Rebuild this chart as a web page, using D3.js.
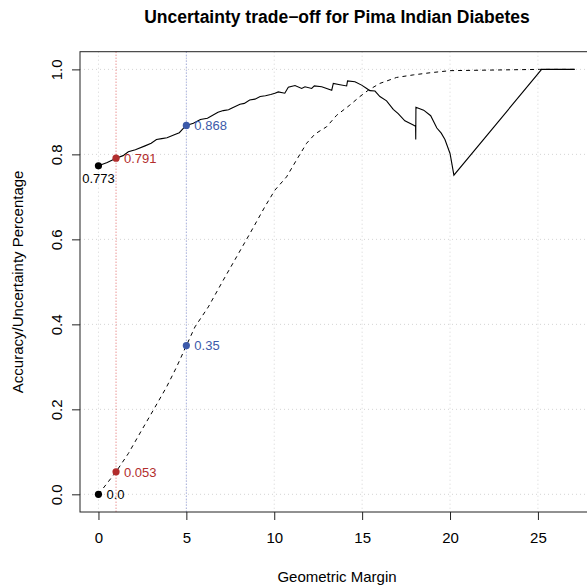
<!DOCTYPE html>
<html>
<head>
<meta charset="utf-8">
<script src="https://cdn.jsdelivr.net/npm/d3@7"></script>
<style>
  body { margin: 0; background: #fff; }
  svg { display: block; font-family: "Liberation Sans", Arial, Helvetica, sans-serif; }
</style>
</head>
<body>
<div id="chart-container"></div>
<script>
// Accuracy curve (solid)
const accMargin = [0, 0.5, 1, 1.4, 1.7, 2.1, 2.65, 3.0, 3.3, 3.6, 3.9, 4.35, 4.6, 4.8, 5.0,
    5.4, 5.8, 6.2, 6.5, 6.8, 7.1, 7.4, 7.6, 8.05, 8.3, 8.6, 8.9, 9.2, 9.5, 9.8, 10.04,
    10.23, 10.6, 10.8, 11.18, 11.56, 11.75, 12.13, 12.28, 12.7, 13.27, 13.36, 13.74,
    14.12, 14.17, 14.59, 14.97, 15.26, 15.44, 15.73, 16.01, 16.39, 16.77, 17.05, 17.43,
    17.91, 18.04, 18.05, 18.06, 18.5, 18.9, 19.25, 19.5, 19.71, 20.0, 20.22, 25.21, 27.1];
const accuracy = [0.773, 0.781, 0.791, 0.797, 0.806, 0.811, 0.820, 0.826, 0.835, 0.837, 0.839, 0.847, 0.851, 0.860, 0.868,
    0.873, 0.882, 0.885, 0.892, 0.899, 0.903, 0.905, 0.909, 0.918, 0.920, 0.928, 0.930, 0.936, 0.938, 0.941, 0.944,
    0.947, 0.944, 0.958, 0.962, 0.955, 0.959, 0.955, 0.961, 0.959, 0.951, 0.967, 0.964,
    0.961, 0.973, 0.971, 0.963, 0.955, 0.950, 0.949, 0.936, 0.926, 0.906, 0.896, 0.879,
    0.869, 0.866, 0.835, 0.911, 0.904, 0.891, 0.862, 0.850, 0.835, 0.802, 0.751, 1.0, 1.0];

// Uncertainty curve (dashed)
const uncMargin = [0, 1, 1.7, 2.46, 3.12, 3.88, 4.45, 5, 5.49, 6.25, 7.1, 7.86, 8.62, 9.47, 10.04,
    10.7, 11.27, 11.84, 12.32, 12.98, 13.55, 14.3, 14.87, 15.35, 16.01, 16.96, 17.91, 18.86,
    20.0, 21.7, 25.1, 27.1];
const uncertainty = [0, 0.053, 0.096, 0.151, 0.198, 0.253, 0.300, 0.35, 0.394, 0.441, 0.504, 0.559, 0.614, 0.677, 0.716,
    0.747, 0.787, 0.826, 0.848, 0.865, 0.892, 0.916, 0.936, 0.951, 0.967, 0.981, 0.987, 0.992,
    0.997, 0.998, 1.0, 1.0];

// Highlighted margins and their labels
const markMargins = [0, 1, 5];
const markColors = ["#000000", "#b22d2d", "#3c5aaa"];
const accLabels = ["0.773", "0.791", "0.868"];
const uncLabels = ["0.0", "0.053", "0.35"];
const accMarks = [0.773, 0.791, 0.868];
const uncMarks = [0, 0.053, 0.35];

const xTicks = [0, 5, 10, 15, 20, 25];
const yTicks = [0, 0.2, 0.4, 0.6, 0.8, 1.0];
const yTickLabels = ["0.0", "0.2", "0.4", "0.6", "0.8", "1.0"];

class TradeoffChart {
    constructor(container) {
        this.container = container;
        this.width = 587;
        this.height = 586;
        this.box = { left: 80, right: 594, top: 51.7, bottom: 512 };
        this.initChart();
    }

    initChart() {
        this.svg = d3.select(this.container)
            .append("svg")
            .attr("width", this.width)
            .attr("height", this.height);

        this.x = d3.scaleLinear().domain([-1.05, 28.19]).range([this.box.left, this.box.right]);
        this.y = d3.scaleLinear().domain([-0.0416, 1.0416]).range([this.box.bottom, this.box.top]);

        this.drawGrid();
        this.drawCurves();
        this.drawMarks();
        this.drawAxes();
    }

    drawGrid() {
        const b = this.box;
        const grid = this.svg.append("g").attr("class", "grid")
            .attr("stroke", "#d4d4d4")
            .attr("stroke-dasharray", "1,3");

        grid.selectAll(".gx").data(xTicks).join("line")
            .attr("x1", d => this.x(d)).attr("x2", d => this.x(d))
            .attr("y1", b.top).attr("y2", b.bottom);
        grid.selectAll(".gy").data(yTicks).join("line")
            .attr("x1", b.left).attr("x2", b.right)
            .attr("y1", d => this.y(d)).attr("y2", d => this.y(d));

        // Dotted reference lines at margin 1 and 5
        this.svg.append("g").selectAll("line")
            .data([1, 5])
            .join("line")
            .attr("x1", d => this.x(d)).attr("x2", d => this.x(d))
            .attr("y1", b.top).attr("y2", b.bottom)
            .attr("stroke", (d, i) => i === 0 ? "#e06464" : "#8a96d6")
            .attr("stroke-dasharray", "1,2");
    }

    drawCurves() {
        const line = d3.line()
            .x(d => this.x(d[0]))
            .y(d => this.y(d[1]));

        this.svg.append("path")
            .datum(uncMargin.map((m, i) => [m, uncertainty[i]]))
            .attr("d", line)
            .attr("fill", "none")
            .attr("stroke", "#000")
            .attr("stroke-width", 1)
            .attr("stroke-dasharray", "4,4");

        this.svg.append("path")
            .datum(accMargin.map((m, i) => [m, accuracy[i]]))
            .attr("d", line)
            .attr("fill", "none")
            .attr("stroke", "#000")
            .attr("stroke-width", 1.1);
    }

    drawMarks() {
        const g = this.svg.append("g").attr("font-size", 13);

        const pts = markMargins.map((m, i) => ({ m, v: accMarks[i], label: accLabels[i], c: markColors[i], acc: true }))
            .concat(markMargins.map((m, i) => ({ m, v: uncMarks[i], label: uncLabels[i], c: markColors[i], acc: false })));

        g.selectAll("circle").data(pts).join("circle")
            .attr("cx", d => this.x(d.m))
            .attr("cy", d => this.y(d.v))
            .attr("r", 3.6)
            .attr("fill", d => d.c);

        g.selectAll("text").data(pts).join("text")
            .attr("x", d => (d.acc && d.m === 0) ? this.x(d.m) : this.x(d.m) + 8)
            .attr("y", d => (d.acc && d.m === 0) ? this.y(d.v) + 17.5 : this.y(d.v) + 4.7)
            .attr("text-anchor", d => (d.acc && d.m === 0) ? "middle" : "start")
            .attr("fill", d => d.c)
            .text(d => d.label);
    }

    drawAxes() {
        const b = this.box;
        const fs = 15;

        // Plot frame (right side falls outside the picture)
        this.svg.append("rect")
            .attr("x", b.left).attr("y", b.top)
            .attr("width", b.right - b.left).attr("height", b.bottom - b.top)
            .attr("fill", "none")
            .attr("stroke", "#222")
            .attr("stroke-width", 1);

        const xAxis = this.svg.append("g")
            .attr("transform", `translate(0,${b.bottom})`)
            .call(d3.axisBottom(this.x).tickValues(xTicks).tickSize(8).tickPadding(12));
        xAxis.select(".domain").remove();

        const yAxis = this.svg.append("g")
            .attr("transform", `translate(${b.left},0)`)
            .call(d3.axisLeft(this.y).tickValues(yTicks).tickSize(8)
                .tickFormat((d, i) => yTickLabels[i]));
        yAxis.select(".domain").remove();

        this.svg.selectAll(".tick line").attr("stroke", "#222");
        xAxis.selectAll("text")
            .attr("font-size", fs).attr("fill", "#000")
            .attr("font-family", "Liberation Sans, Arial, sans-serif");
        yAxis.selectAll("text")
            .attr("font-size", fs).attr("fill", "#000")
            .attr("font-family", "Liberation Sans, Arial, sans-serif")
            .attr("text-anchor", "middle")
            .attr("dy", null)
            .attr("transform", "rotate(-90)")
            .attr("x", 0)
            .attr("y", -18);

        // Titles
        this.svg.append("text")
            .attr("x", (b.left + b.right) / 2).attr("y", 23)
            .attr("text-anchor", "middle")
            .attr("font-size", 17.5).attr("font-weight", "bold")
            .text("Uncertainty trade\u2212off for Pima Indian Diabetes");

        this.svg.append("text")
            .attr("x", (b.left + b.right) / 2).attr("y", 581.5)
            .attr("text-anchor", "middle")
            .attr("font-size", fs)
            .text("Geometric Margin");

        this.svg.append("text")
            .attr("transform", `translate(23,${(b.top + b.bottom) / 2}) rotate(-90)`)
            .attr("text-anchor", "middle")
            .attr("font-size", fs)
            .text("Accuracy/Uncertainty Percentage");
    }
}

new TradeoffChart("#chart-container");
</script>
</body>
</html>
